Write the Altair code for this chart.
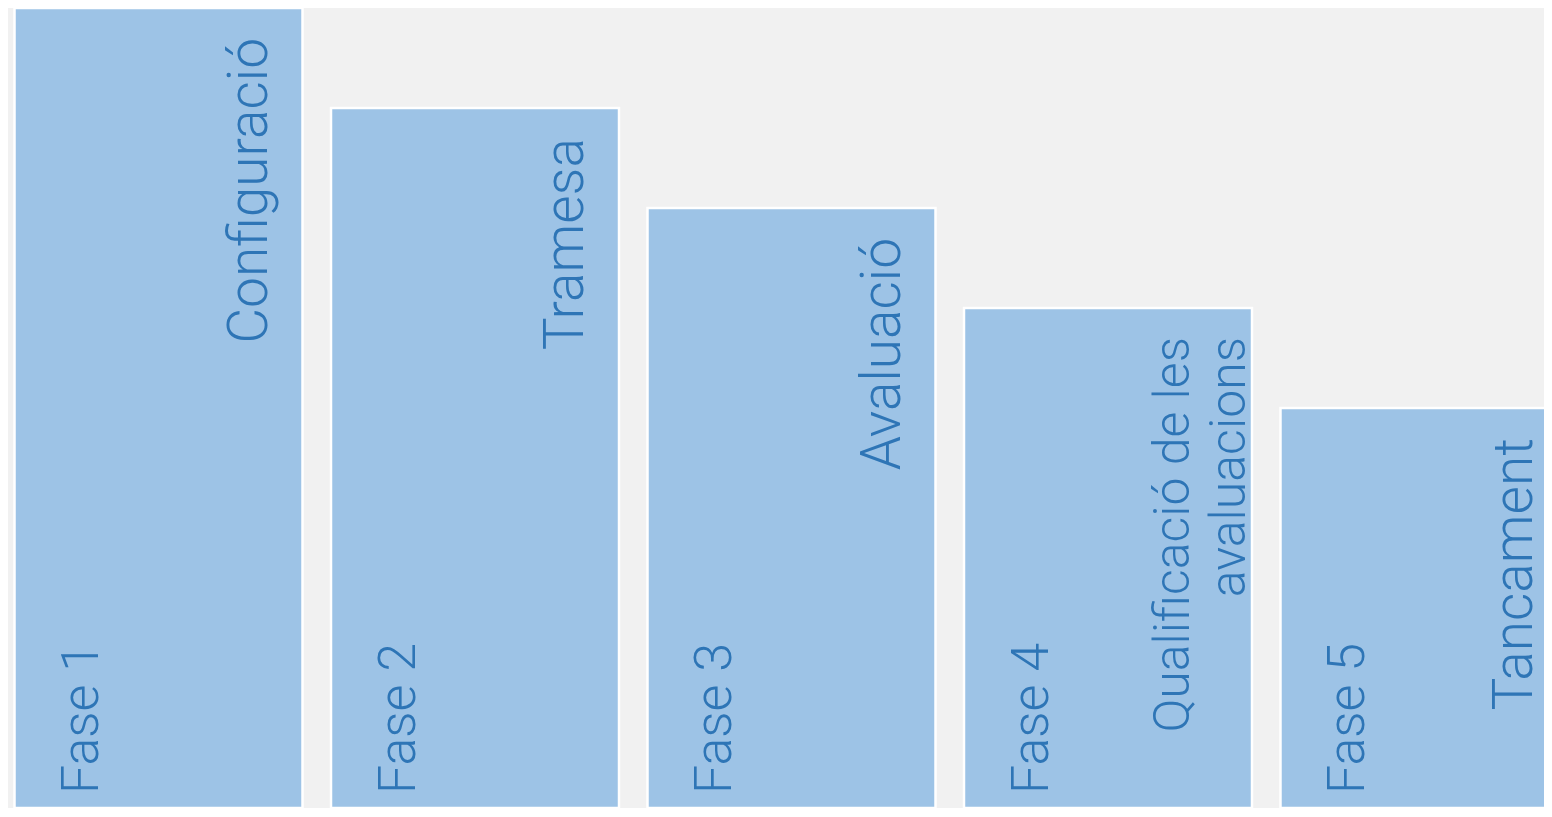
import altair as alt
import pandas as pd

fases = ["Fase 1", "Fase 2", "Fase 3", "Fase 4", "Fase 5"]
noms = ["Configuració", "Tramesa", "Avaluació", "Qualificació de les\navaluacions", "Tancament"]
valors = [8, 7, 6, 5, 4]
linies = [1, 1, 1, 2, 1]

df = pd.DataFrame({"fase": fases, "nom": noms, "valor": valors, "linies": linies})

FONT = "Roboto Light, Lato Light, Open Sans Light, Roboto, sans-serif"
BLUE = "#2E75B6"
BAR = "#9DC3E6"

xscale = alt.Scale(range=[6.5, 1560.5], paddingInner=0.09, paddingOuter=0)
yscale = alt.Scale(domain=[0, 8])


def xenc(pos=None):
    if pos is None:
        return alt.X("fase:N", scale=xscale, axis=None)
    return alt.X("fase:N", scale=xscale, axis=None, bandPosition=pos)


base = alt.Chart(df)

bars = base.mark_bar(color=BAR, stroke="white", strokeWidth=2.5, clip=True).encode(
    x=xenc(),
    y=alt.Y("valor:Q", scale=yscale, axis=None),
)

fase_text = base.mark_text(
    angle=270, align="left", baseline="alphabetic", dx=14,
    font=FONT, fontSize=52, fontWeight=300, color=BLUE,
).encode(
    x=xenc(0.29),
    y=alt.Y("zero:Q", scale=yscale, axis=None),
    text="fase:N",
).transform_calculate(zero="0")

nom_single = base.transform_filter("datum.linies == 1").mark_text(
    angle=270, align="right", baseline="alphabetic", dx=-30,
    font=FONT, fontSize=55, fontWeight=300, color=BLUE,
).encode(
    x=xenc(0.875),
    y=alt.Y("valor:Q", scale=yscale, axis=None),
    text="nom:N",
)

nom_multi = base.transform_filter("datum.linies == 2").mark_text(
    angle=270, align="right", baseline="alphabetic", dx=-29,
    font=FONT, fontSize=50, fontWeight=300, lineHeight=56, lineBreak="\n", color=BLUE,
).encode(
    x=xenc(0.78),
    y=alt.Y("valor:Q", scale=yscale, axis=None),
    text="nom:N",
)

chart = alt.layer(bars, fase_text, nom_single, nom_multi).properties(
    width=1536,
    height=800,
    background="#F1F1F1",
    padding=0,
    autosize=alt.AutoSizeParams(type="none"),
).configure_view(stroke=None)

chart.save("out.html", embed_options={"renderer": "svg", "actions": False})
